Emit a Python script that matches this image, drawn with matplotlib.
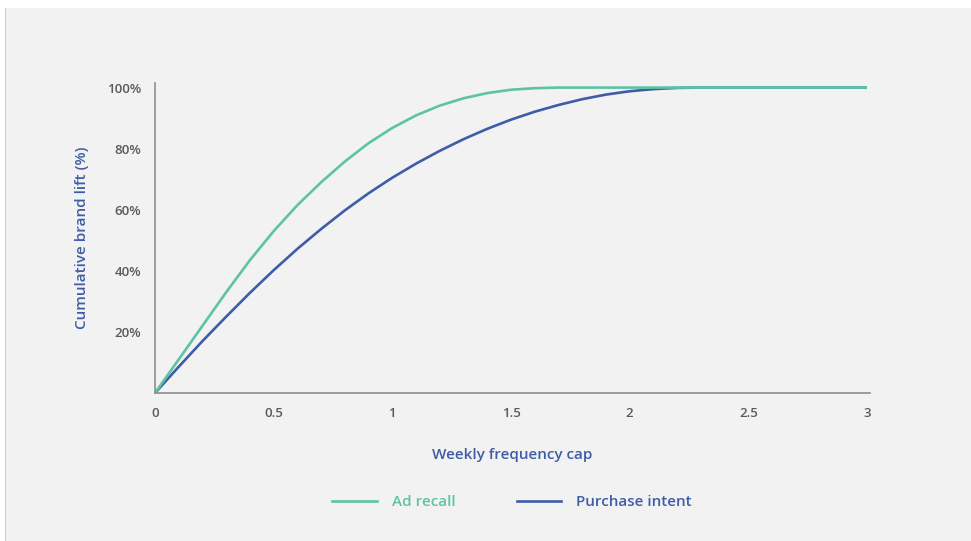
import matplotlib
matplotlib.use('Agg')
import matplotlib.pyplot as plt
from matplotlib.patches import Rectangle
from matplotlib.lines import Line2D

plt.rcParams['font.family'] = ['Open Sans', 'DejaVu Sans']

# values
freq_cap = [0.0, 0.1, 0.2, 0.3, 0.4, 0.5, 0.6, 0.7, 0.8, 0.9, 1.0, 1.1, 1.2,
            1.3, 1.4, 1.5, 1.6, 1.7, 1.8, 1.9, 2.0, 2.1, 2.2, 2.3, 3.0]
ad_recall = [0, 11, 22, 33, 43.5, 53, 61.5, 69, 75.8, 81.8, 86.8, 90.9, 94.1,
             96.5, 98.2, 99.3, 99.8, 100, 100, 100, 100, 100, 100, 100, 100]
purchase_intent = [0, 8.6, 17, 25, 32.8, 40.2, 47.2, 53.7, 59.8, 65.4, 70.5,
                   75.1, 79.3, 83.1, 86.5, 89.5, 92.1, 94.3, 96.2, 97.7, 98.8,
                   99.5, 99.9, 100, 100]
y_ticks = [20, 40, 60, 80, 100]
x_ticks = [0, 0.5, 1, 1.5, 2, 2.5, 3]
x_tick_labels = ['0', '0.5', '1', '1.5', '2', '2.5', '3']

green = '#5cc4a5'
blue = '#3f5ca8'
tick_grey = '#5a5a5a'

fig = plt.figure(figsize=(9.71, 5.41), dpi=100, facecolor='white')
fig.patches.append(Rectangle((5 / 971, 0), 1 - 5 / 971, 1 - 8 / 541,
                             transform=fig.transFigure, facecolor='#f2f2f2',
                             edgecolor='none', zorder=-10))
fig.lines.append(Line2D([5 / 971, 5 / 971], [0, 1 - 8 / 541],
                        transform=fig.transFigure, color='#d0d0d0', lw=0.8,
                        zorder=-9))

ax = fig.add_axes([155 / 971, 148 / 541, (870 - 155) / 971, (393 - 83) / 541])
ax.set_facecolor('none')

ax.plot(freq_cap, purchase_intent, color=blue, lw=1.9, label='Purchase intent',
        solid_capstyle='butt')
ax.plot(freq_cap, ad_recall, color=green, lw=1.9, label='Ad recall',
        solid_capstyle='butt')

ax.set_xlim(0, 3.0 * 715 / 712)
ax.set_ylim(0, 101.5)

for side in ['top', 'right']:
    ax.spines[side].set_visible(False)
for side in ['left', 'bottom']:
    ax.spines[side].set_color('#8c8c8c')
    ax.spines[side].set_linewidth(1.2)

ax.set_xticks(x_ticks)
ax.set_xticklabels(x_tick_labels)
ax.set_yticks(y_ticks)
ax.set_yticklabels([f'{v}%' for v in y_ticks])
ax.tick_params(axis='x', length=0, pad=10, labelsize=9.5, labelcolor=tick_grey)
ax.tick_params(axis='y', length=0, pad=10, labelsize=9.5, labelcolor=tick_grey)
for lab in ax.get_xticklabels() + ax.get_yticklabels():
    lab.set_fontweight('semibold')

ax.set_xlabel('Weekly frequency cap', fontsize=11, color=blue, labelpad=20,
              fontweight='semibold')
ax.set_ylabel('Cumulative brand lift (%)', fontsize=11, color=blue, labelpad=13,
              fontweight='semibold')

handles = [Line2D([], [], color=green, lw=1.9),
           Line2D([], [], color=blue, lw=1.9)]
leg = fig.legend(handles, ['Ad recall', 'Purchase intent'], loc='center',
                 bbox_to_anchor=(512 / 971, 1 - 502 / 541), ncol=2,
                 frameon=False, fontsize=11, handlelength=2.9,
                 handletextpad=1.0, columnspacing=4.0)
for txt, col in zip(leg.get_texts(), [green, blue]):
    txt.set_color(col)
    txt.set_fontweight('semibold')

fig.savefig('out.png', dpi=100, facecolor=fig.get_facecolor())
